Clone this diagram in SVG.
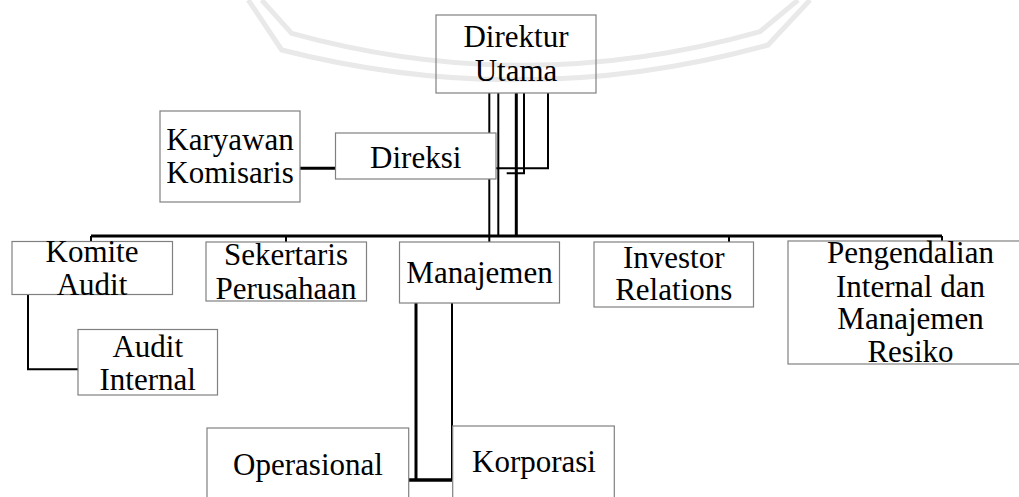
<svg xmlns="http://www.w3.org/2000/svg" width="1019" height="497" viewBox="0 0 1019 497">
<style>
.bx{fill:#fff;stroke:#808080;stroke-width:1.2}
.t{font-family:'Liberation Serif','Times New Roman','DejaVu Serif',serif;font-size:31px;fill:#000;text-anchor:middle}
.c{fill:none;stroke:#000;stroke-width:2}
.ct{fill:none;stroke:#000;stroke-width:3}
.wm{fill:none;stroke:#e9e9e9;stroke-width:5}
</style>
<rect width="1019" height="497" fill="#fff"/>
<g id="connectors">
<path class="ct" d="M91,236 H942"/>
<path class="c" d="M91,236 V241 M286,236 V242 M729,236 V242 M942,236 V241"/>
<path class="c" d="M489.3,93 V242"/>
<path class="c" d="M498.3,93 V236"/>
<path class="ct" d="M516.3,93 V236"/>
<path class="c" d="M524,93 V173.3 H506.7"/>
<path class="c" d="M548,93 V168.3 H496"/>
<path class="ct" d="M300,168.3 H335"/>
<path class="c" d="M28,295 V369.3 H78"/>
<path class="ct" d="M416,303 V480"/>
<path class="c" d="M452,303 V480"/>
<path class="ct" d="M409,480 H452" style="stroke-width:3.5"/>
</g>
<g id="watermark">
<path class="wm" d="M261.7,0 L291.7,33.3 Q526,98 760,31.7 L798,0"/>
<path class="wm" d="M248.3,0 L281.7,50 Q526,112 768,45 L810,0"/>
</g>
<g id="direktur-utama">
<rect class="bx" x="436" y="15" width="160" height="78" style="fill:none"/>
<text class="t" x="516" y="47" font-family="Liberation Serif, serif">Direktur</text>
<text class="t" x="516" y="81" font-family="Liberation Serif, serif">Utama</text>
</g>
<g id="karyawan-komisaris">
<rect class="bx" x="160" y="111" width="140" height="91"/>
<text class="t" x="230" y="150">Karyawan</text>
<text class="t" x="230" y="183.3">Komisaris</text>
</g>
<g id="direksi">
<rect class="bx" x="335.5" y="133" width="160.5" height="46"/>
<text class="t" x="415.7" y="168">Direksi</text>
</g>
<g id="komite-audit">
<rect class="bx" x="12" y="241.5" width="160.5" height="53"/>
<text class="t" x="92" y="262">Komite</text>
<text class="t" x="92" y="294.5">Audit</text>
</g>
<g id="sekertaris-perusahaan">
<rect class="bx" x="206" y="242" width="160.5" height="59"/>
<text class="t" x="286" y="265">Sekertaris</text>
<text class="t" x="286" y="298.5">Perusahaan</text>
</g>
<g id="manajemen">
<rect class="bx" x="399.5" y="242" width="160" height="61"/>
<text class="t" x="479.5" y="283">Manajemen</text>
</g>
<g id="investor-relations">
<rect class="bx" x="594" y="242" width="159.5" height="65"/>
<text class="t" x="673.7" y="268">Investor</text>
<text class="t" x="673.7" y="300">Relations</text>
</g>
<g id="pengendalian-internal">
<rect class="bx" x="788" y="241" width="240" height="123"/>
<text class="t" x="910.5" y="263">Pengendalian</text>
<text class="t" x="910.5" y="296.5">Internal dan</text>
<text class="t" x="910.5" y="329">Manajemen</text>
<text class="t" x="910.5" y="362">Resiko</text>
</g>
<g id="audit-internal">
<rect class="bx" x="78" y="329.5" width="139.5" height="65.5"/>
<text class="t" x="147.7" y="357">Audit</text>
<text class="t" x="147.7" y="389.5">Internal</text>
</g>
<g id="operasional">
<rect class="bx" x="207" y="428" width="201.7" height="80"/>
<text class="t" x="308" y="475">Operasional</text>
</g>
<g id="korporasi">
<rect class="bx" x="452.7" y="426" width="161.6" height="80"/>
<text class="t" x="534" y="472">Korporasi</text>
</g>
</svg>
